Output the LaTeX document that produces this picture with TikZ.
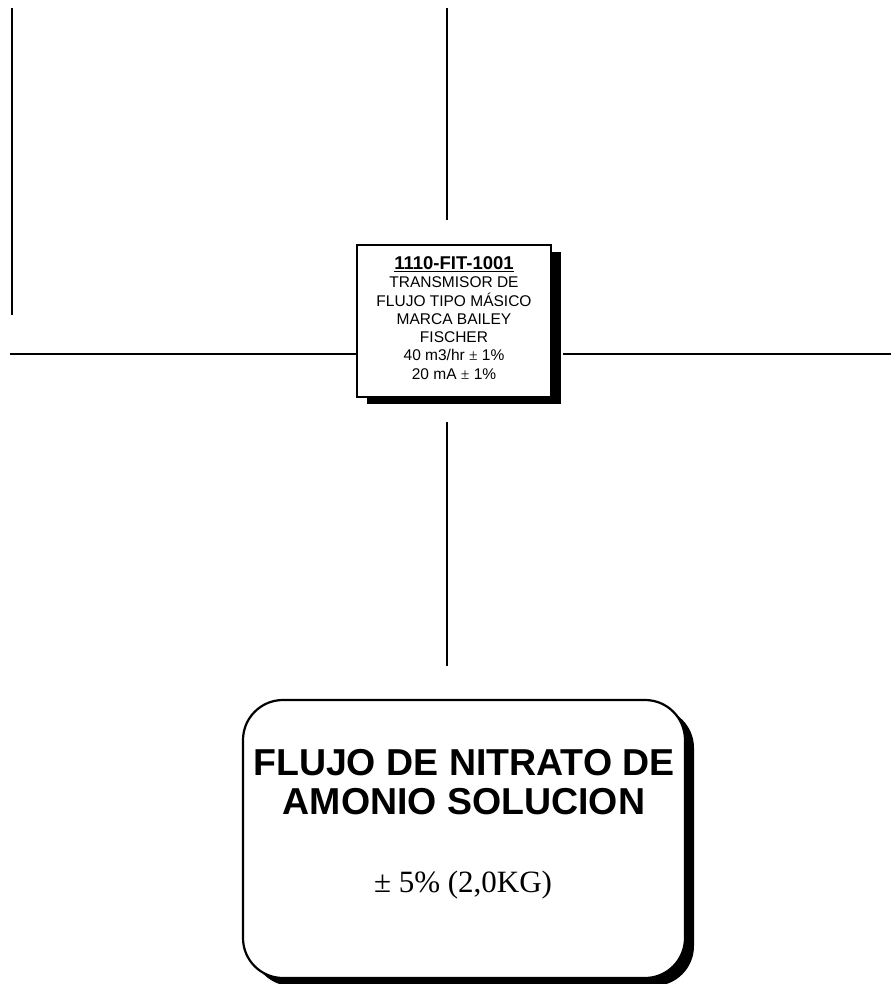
\documentclass[tikz,border=0pt]{standalone}
\usepackage{fontspec}
\setmainfont{Liberation Sans}
\newfontfamily\tmsfont{Liberation Serif}
\usetikzlibrary{shadows}
\begin{document}
\begin{tikzpicture}[x=1pt,y=-1pt,
  wire/.style={line width=2pt},
  instbox/.style={draw,line width=1.4pt,fill=white,minimum width=194pt,minimum height=152pt,inner sep=0pt,
    drop shadow={shadow xshift=10pt,shadow yshift=-7pt,fill=black,opacity=1}},
  procbox/.style={draw,line width=2.2pt,fill=white,rounded corners=40pt,minimum width=442pt,minimum height=278pt,inner sep=0pt,
    drop shadow={shadow xshift=9pt,shadow yshift=-8pt,fill=black,opacity=1}},
  smalltxt/.style={align=center,font=\fontsize{15.5}{18.3}\selectfont},
  bigtxt/.style={align=center,font=\fontsize{37.5}{39}\selectfont\bfseries},
  tol/.style={font=\fontsize{31}{34}\selectfont\tmsfont}]
\useasboundingbox (0,0) rectangle (891,984);
% free line ends
\coordinate (l1a) at (12,8);
\coordinate (l1b) at (12,315);
\coordinate (t1a) at (447,8);
\coordinate (t1b) at (447,220);
\coordinate (h1a) at (10,354);
\coordinate (h2b) at (891,354);
\coordinate (b1a) at (447,422);
\coordinate (b1b) at (447,666);
% boxes
\node[instbox] (fit) at (454,321) {};
\node[smalltxt] (fittxt) at (454,318) {{\fontsize{18.5}{18.3}\selectfont\bfseries\underline{1110-FIT-1001}}\\TRANSMISOR DE\\FLUJO TIPO MÁSICO\\MARCA BAILEY\\FISCHER\\40 m3/hr {\tmsfont±} 1\%\\20 mA {\tmsfont±} 1\%};
\node[procbox] (proc) at (464,839) {};
\node[bigtxt] (proctxt) at (464,782) {FLUJO DE NITRATO DE\\AMONIO SOLUCION};
\node[tol] (tolt) at (463,885) {± 5\% (2,0KG)};
% lines
\draw[wire] (l1a) -- (l1b);
\draw[wire] (t1a) -- (t1b);
\draw[wire] (h1a) -- (fit.west |- h1a);
\draw[wire] ([xshift=11pt]fit.east |- h2b) -- (h2b);
\draw[wire] (b1a) -- (b1b);
\end{tikzpicture}
\end{document}
